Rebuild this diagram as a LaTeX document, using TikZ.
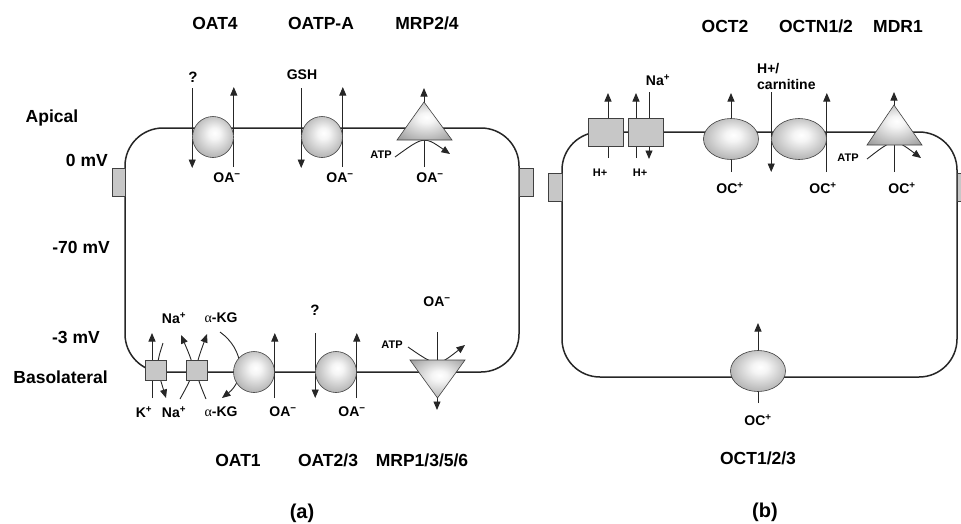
\documentclass[tikz,border=0pt]{standalone}
\usepackage{fontspec}
\setmainfont{Liberation Sans}
\newfontfamily\greekserif{Liberation Serif}
\usetikzlibrary{arrows.meta,shapes.geometric,backgrounds}
\pgfdeclareradialshading{glassball}{\pgfpoint{2bp}{5bp}}{rgb(0bp)=(1,1,1); rgb(7bp)=(0.96,0.96,0.96); rgb(50bp)=(0.42,0.42,0.42)}
\newcommand\alphakg{{\greekserif\mdseries\char"03B1}-KG}
\newcommand\minussup{\textsuperscript{\char"2212}}
\tikzset{
  big/.style={font=\bfseries\fontsize{17.5}{20}\selectfont,inner sep=0pt},
  mid/.style={font=\bfseries\fontsize{14}{16}\selectfont,inner sep=0pt},
  sml/.style={font=\bfseries\fontsize{11}{13}\selectfont,inner sep=0pt},
  membrane/.style={draw=black!85,line width=1.5pt,rounded corners=38pt},
  flux/.style={draw=black!85,line width=0.9pt,-{Triangle[length=8.5pt,width=7pt]}},
  carrier/.style={circle,draw=black!75,line width=0.6pt,minimum size=41pt,inner sep=0pt,shade,shading=glassball},
  oval/.style={ellipse,draw=black!75,line width=0.6pt,minimum width=55pt,minimum height=41pt,inner sep=0pt,shade,shading=glassball},
  exch/.style={rectangle,draw=black!75,line width=0.6pt,fill=black!22,minimum width=21pt,minimum height=20pt,inner sep=0pt},
  hbox/.style={exch,minimum width=35pt,minimum height=28pt},
  pump/.style={draw=black!75,line width=0.6pt,shade,shading=glassball},
  sidebox/.style={draw=black!75,line width=0.6pt,fill=black!22},
}
\begin{document}
\begin{tikzpicture}[x=1pt,y=-1pt]
\useasboundingbox (0,0) rectangle (961,523);
\draw[membrane] (125,128) rectangle (519,372);
\draw[membrane] (562,132) rectangle (957,377);
\draw[sidebox] (112,168) rectangle (125,196);
\draw[sidebox] (519,168) rectangle (533,196);
\draw[sidebox] (548,173) rectangle (562,201);
\draw[sidebox] (957,173) rectangle (971,201);
\coordinate (mrp24) at (424,128);
\coordinate (mrp1) at (437,372);
\coordinate (mdr1) at (894,132);
\node[carrier] (oat4) at (213,137) {};
\node[carrier] (oatpa) at (322,137) {};
\node[carrier] (oat1) at (254,372) {};
\node[carrier] (oat23) at (336,372) {};
\node[exch] (nak) at (155.5,370) {};
\node[exch] (nadc) at (197,370) {};
\node[oval] (oct2) at (731,139) {};
\node[oval] (octn) at (799,139) {};
\node[oval] (oct1) at (758,371) {};
\node[hbox] (nhe1) at (605.5,132) {};
\node[hbox] (nhe2) at (646,132) {};
\draw[pump] (397,140) -- (424,102) -- (452,140) -- cycle;
\draw[pump] (410,360) -- (465,360) -- (437.5,398) -- cycle;
\draw[pump] (867,145) -- (894,105) -- (922,145) -- cycle;
\begin{pgfonlayer}{background}
\draw[flux] (oat4.west) ++(0,-49) -- ++(0,80);
\draw[flux] (oat4.east) ++(0,30) -- ++(0,-80);
\draw[flux] (oatpa.west) ++(0,-49) -- ++(0,80);
\draw[flux] (oatpa.east) ++(0,30) -- ++(0,-80);
\draw[flux] (mrp24) ++(0,39) -- ++(0,-79);
\draw[flux] (395,157) .. controls (424,136) .. (450,154);
\draw[flux] (nak) ++(-3.5,28) -- ++(0,-65);
\draw[flux] (163,343) .. controls (156,365) .. (166,398);
\draw[flux] (180,399) .. controls (196,370) .. (181,335);
\draw[flux] (206,399) .. controls (194,370) .. (207,334);
\draw[flux] (220,332) .. controls (245,350) and (245,380) .. (222,398);
\draw[flux] (oat1.east) ++(0,26) -- ++(0,-65);
\draw[flux] (oat23.west) ++(0,-39) -- ++(0,65);
\draw[flux] (oat23.east) ++(0,26) -- ++(0,-65);
\draw[flux] (mrp1) ++(0,-40) -- ++(0,78);
\draw[flux] (408,347) .. controls (437,367) .. (465,345);
\draw[flux] (nhe1) ++(2.5,26) -- ++(0,-65);
\draw[flux] (nhe2) ++(-10,26) -- ++(0,-65);
\draw[flux] (nhe2) ++(3,-40) -- ++(0,67);
\draw[flux] (oct2) ++(0,33) -- ++(0,-79);
\draw[flux] (octn.west) ++(0,-47) -- ++(0,80);
\draw[flux] (octn.east) ++(0,33) -- ++(0,-79);
\draw[flux] (mdr1) ++(0,40) -- ++(0,-80);
\draw[flux] (867,159) .. controls (894,138) .. (921,158);
\draw[flux] (oct1) ++(0,32) -- ++(0,-80);
\end{pgfonlayer}
\node[big] (oat4lab) at (215,23) {OAT4};
\node[big] (oatpalab) at (321,23) {OATP-A};
\node[big] (mrp24lab) at (427,23) {MRP2/4};
\node[big] (oct2lab) at (725,26) {OCT2};
\node[big] (octnlab) at (816,26) {OCTN1/2};
\node[big] (mdr1lab) at (898,26) {MDR1};
\node[big] (apical) at (52,118) {Apical};
\node[big,anchor=east] (mv0) at (108,160) {0 mV};
\node[big,anchor=east] (mv70) at (110,247) {-70 mV};
\node[big,anchor=east] (mv3) at (100,337) {-3 mV};
\node[big,anchor=east] (baso) at (108,377) {Basolateral};
\node[big] (oat1lab) at (238,460) {OAT1};
\node[big] (oat23lab) at (328,460) {OAT2/3};
\node[big] (mrp1lab) at (422,460) {MRP1/3/5/6};
\node[big] (oct1lab) at (758,458) {OCT1/2/3};
\node[big,font=\bfseries\fontsize{20}{22}\selectfont] (panela) at (302,513) {(a)};
\node[big,font=\bfseries\fontsize{20}{22}\selectfont] (panelb) at (765,512) {(b)};
\node[mid,font=\bfseries\fontsize{15}{17}\selectfont] (qtop) at (193,77) {?};
\node[mid] (gsh) at (302,75) {GSH};
\node[mid] (oa1) at (227,178) {OA\minussup};
\node[mid] (oa2) at (340,178) {OA\minussup};
\node[mid] (oa3) at (430,178) {OA\minussup};
\node[sml] (atp1) at (381,155) {ATP};
\node[mid] (kout) at (144,412) {K\textsuperscript{+}};
\node[mid] (naout) at (174,412) {Na\textsuperscript{+}};
\node[mid] (kgout) at (221,412) {\alphakg};
\node[mid] (oa4) at (283,412) {OA\minussup};
\node[mid] (oa5) at (352,412) {OA\minussup};
\node[mid] (nain) at (174,318) {Na\textsuperscript{+}};
\node[mid] (kgin) at (221,318) {\alphakg};
\node[mid,font=\bfseries\fontsize{15}{17}\selectfont] (qbot) at (315,310) {?};
\node[mid] (oa6) at (437,302) {OA\minussup};
\node[sml] (atp2) at (392,345) {ATP};
\node[sml] (h1) at (600,173) {H+};
\node[sml] (h2) at (640,173) {H+};
\node[mid] (nab) at (658,80) {Na\textsuperscript{+}};
\node[mid,anchor=west,align=left] (carn) at (757,76) {H+/\\carnitine};
\node[mid] (oc1) at (730,188) {OC\textsuperscript{+}};
\node[mid] (oc2) at (823,188) {OC\textsuperscript{+}};
\node[mid] (oc3) at (902,188) {OC\textsuperscript{+}};
\node[sml] (atp3) at (848,158) {ATP};
\node[mid] (oc4) at (758,420) {OC\textsuperscript{+}};
\end{tikzpicture}
\end{document}
